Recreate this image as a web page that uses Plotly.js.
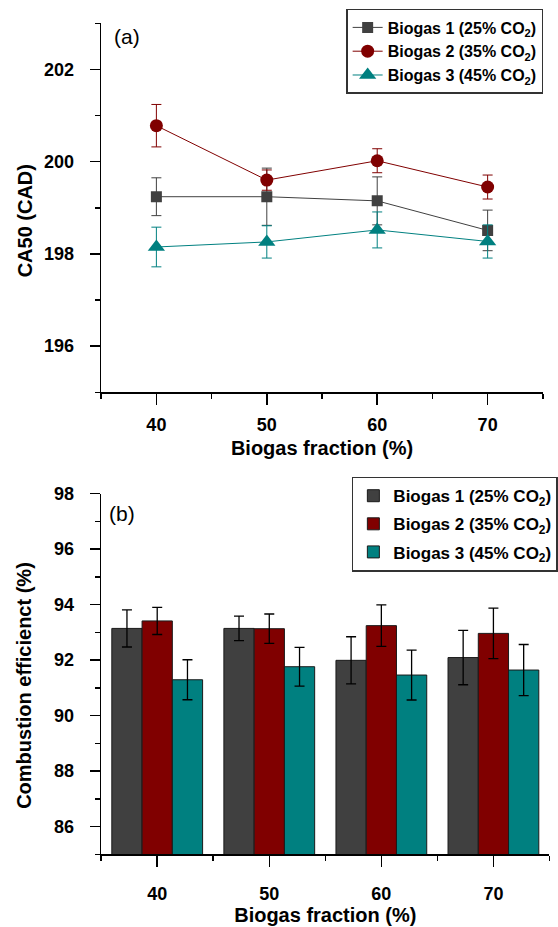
<!DOCTYPE html>
<html>
<head>
<meta charset="utf-8">
<script src="https://cdn.plot.ly/plotly-3.0.1.min.js"></script>
<style>html,body{margin:0;padding:0;background:#fff}#chart{width:558px;height:927px}</style>
</head>
<body>
<div id="chart"></div>
<script>
// Biogas fraction (%)
const fractions = [40, 50, 60, 70];
const seriesNames = ['Biogas 1 (25% CO<sub>2</sub>)', 'Biogas 2 (35% CO<sub>2</sub>)', 'Biogas 3 (45% CO<sub>2</sub>)'];
const seriesColors = ['#404040', '#800000', '#008080'];

// (a) CA50 (CAD)
const ca50_b1 = [199.24, 199.24, 199.15, 198.51];
const ca50_b1_err = [0.41, 0.62, 0.52, 0.44];
const ca50_b2 = [200.78, 199.60, 200.02, 199.45];
const ca50_b2_err = [0.46, 0.22, 0.26, 0.26];
const ca50_b3 = [198.15, 198.26, 198.52, 198.27];
const ca50_b3_err = [0.43, 0.35, 0.39, 0.36];

// (b) Combustion efficiency (%)
const ce_b1 = [93.14, 93.14, 91.99, 92.09];
const ce_b1_err = [0.67, 0.44, 0.85, 0.98];
const ce_b2 = [93.41, 93.13, 93.24, 92.96];
const ce_b2_err = [0.49, 0.53, 0.75, 0.91];
const ce_b3 = [91.29, 91.76, 91.46, 91.64];
const ce_b3_err = [0.72, 0.70, 0.90, 0.92];

const FONT = 'Arial, "Liberation Sans", sans-serif';
const symbols = ['square', 'circle', 'triangle-up'];
const msizes = [11, 13, 15];
const caVals = [ca50_b1, ca50_b2, ca50_b3];
const caErrs = [ca50_b1_err, ca50_b2_err, ca50_b3_err];
const ceVals = [ce_b1, ce_b2, ce_b3];
const ceErrs = [ce_b1_err, ce_b2_err, ce_b3_err];

const traces = [];
for (let i = 0; i < 3; i++) {
  traces.push({
    type: 'scatter', mode: 'lines+markers',
    x: fractions, y: caVals[i], name: seriesNames[i],
    xaxis: 'x', yaxis: 'y', legend: 'legend', legendgroup: 'a' + i,
    line: {color: seriesColors[i], width: 1},
    marker: {symbol: symbols[i], size: msizes[i], color: seriesColors[i]},
    error_y: {type: 'data', array: caErrs[i], visible: true, color: seriesColors[i], thickness: 1, width: 5}
  });
}
for (let i = 0; i < 3; i++) {
  traces.push({
    type: 'bar', x: fractions, y: ceVals[i], name: seriesNames[i],
    xaxis: 'x2', yaxis: 'y2', legend: 'legend2', legendgroup: 'b' + i,
    marker: {color: seriesColors[i], line: {color: '#1a1a1a', width: 1}},
    error_y: {type: 'data', array: ceErrs[i], visible: true, color: '#000', thickness: 1.3, width: 5}
  });
}

const tickFont = {family: FONT, size: 18, weight: 'bold', color: '#000'};
const titleFont = {family: FONT, size: 20, weight: 'bold', color: '#000'};
const legFont = {family: FONT, size: 16, weight: 'bold', color: '#000'};

function xAxis(domain, anchor, standoffLbl, titleStandoff) {
  return {
    domain: domain, anchor: anchor, range: [35, 75],
    tickmode: 'array', tickvals: fractions, ticktext: fractions.map(String),
    ticks: 'outside', ticklen: 11, tickwidth: 1.5, tickcolor: '#000',
    minor: {tickmode: 'linear', tick0: 35, dtick: 5, ticks: 'outside', ticklen: 5, tickwidth: 1.5, tickcolor: '#000'},
    showline: true, linewidth: 1.5, linecolor: '#000',
    showgrid: false, zeroline: false, tickfont: tickFont, ticklabelstandoff: standoffLbl,
    title: {text: 'Biogas fraction (%)', font: titleFont, standoff: titleStandoff},
    fixedrange: true
  };
}
function yAxis(domain, anchor, range, tick0) {
  return {
    domain: domain, anchor: anchor, range: range,
    tickmode: 'linear', tick0: tick0, dtick: 2,
    ticks: 'outside', ticklen: 10, tickwidth: 1.5, tickcolor: '#000',
    minor: {tickmode: 'linear', tick0: tick0 - 1, dtick: 2, ticks: 'outside', ticklen: 5, tickwidth: 1.5, tickcolor: '#000'},
    showline: true, linewidth: 1.5, linecolor: '#000',
    showgrid: false, zeroline: false, tickfont: tickFont, ticklabelstandoff: 12,
    fixedrange: true
  };
}

const layout = {
  width: 558, height: 927,
  margin: {l: 0, r: 0, t: 0, b: 0},
  paper_bgcolor: '#fff', plot_bgcolor: 'rgba(0,0,0,0)',
  font: {family: FONT, color: '#000'},
  barmode: 'group', bargap: 0.19, bargroupgap: 0,
  xaxis: xAxis([0.1823, 0.9781], 'y', 5, 6),
  yaxis: yAxis([0.5768, 0.9749], 'x', [195, 203], 196),
  xaxis2: xAxis([0.1823, 0.9900], 'y2', 12, 0),
  yaxis2: yAxis([0.0784, 0.4676], 'x2', [85, 98], 86),
  legend: {
    x: 0.6237, y: 0.9903, xanchor: 'left', yanchor: 'top',
    bgcolor: '#fff', bordercolor: '#333', borderwidth: 1.5,
    font: legFont, traceorder: 'grouped', tracegroupgap: 0, itemwidth: 30
  },
  legend2: {
    x: 0.634, y: 0.4858, xanchor: 'left', yanchor: 'top',
    bgcolor: '#fff', bordercolor: '#333', borderwidth: 1.5,
    font: {family: FONT, size: 17, weight: 'bold', color: '#000'},
    traceorder: 'grouped', tracegroupgap: 3, itemwidth: 30
  },
  annotations: [
    {text: '(a)', xref: 'paper', yref: 'paper', x: 0.202, y: 0.961, xanchor: 'left', yanchor: 'middle',
     showarrow: false, font: {family: FONT, size: 21, color: '#000'}},
    {text: '(b)', xref: 'paper', yref: 'paper', x: 0.192, y: (927 - 513) / 927, xanchor: 'left', yanchor: 'middle',
     showarrow: false, font: {family: FONT, size: 21, color: '#000'}},
    {text: 'CA50 (CAD)', xref: 'paper', yref: 'paper', x: 25.5 / 558, y: (927 - 221) / 927,
     xanchor: 'center', yanchor: 'middle', textangle: -90, showarrow: false, font: titleFont},
    {text: 'Combustion efficienct (%)', xref: 'paper', yref: 'paper', x: 24 / 558, y: (927 - 685) / 927,
     xanchor: 'center', yanchor: 'middle', textangle: -90, showarrow: false, font: titleFont}
  ]
};

Plotly.newPlot('chart', traces, layout, {displayModeBar: false, staticPlot: true});
</script>
</body>
</html>
